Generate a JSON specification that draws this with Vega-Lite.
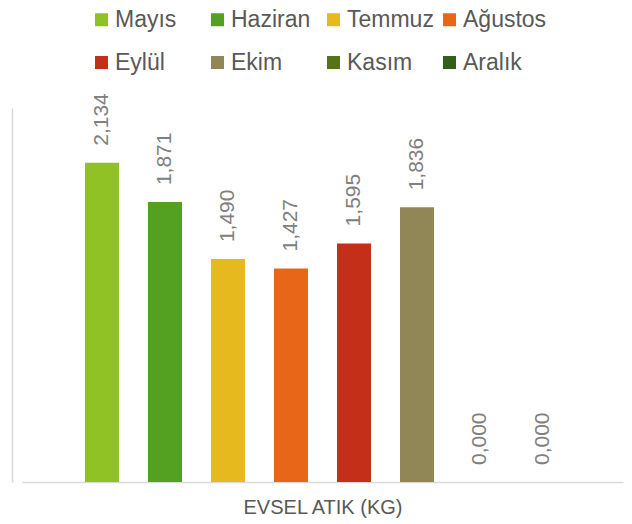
{
  "$schema": "https://vega.github.io/schema/vega-lite/v6.json",
  "width": 620,
  "height": 374,
  "autosize": {"type": "none"},
  "padding": {"left": 12, "top": 108, "right": 0, "bottom": 42},
  "background": "white",
  "config": {
    "view": {"stroke": null},
    "font": "Liberation Sans",
    "locale": {"number": {"decimal": ",", "thousands": ".", "grouping": [3], "currency": ["", " ₺"]}}
  },
  "data": {
    "values": [
      {"ay": "Mayıs", "sira": 1, "kg": 2.134},
      {"ay": "Haziran", "sira": 2, "kg": 1.871},
      {"ay": "Temmuz", "sira": 3, "kg": 1.49},
      {"ay": "Ağustos", "sira": 4, "kg": 1.427},
      {"ay": "Eylül", "sira": 5, "kg": 1.595},
      {"ay": "Ekim", "sira": 6, "kg": 1.836},
      {"ay": "Kasım", "sira": 7, "kg": 0},
      {"ay": "Aralık", "sira": 8, "kg": 0}
    ]
  },
  "encoding": {
    "x": {
      "field": "ay",
      "type": "nominal",
      "sort": {"field": "sira"},
      "scale": {"paddingInner": 0.46, "paddingOuter": 1, "range": [10, 611]},
      "axis": {
        "title": "EVSEL ATIK  (KG)",
        "titleFontSize": 20,
        "titleFontWeight": "normal",
        "titleColor": "#595959",
        "titlePadding": 15,
        "labels": false,
        "ticks": false,
        "domainColor": "#D9D9D9",
        "domainWidth": 1.5
      }
    },
    "y": {
      "field": "kg",
      "type": "quantitative",
      "scale": {"domain": [0, 2.5], "nice": false},
      "axis": {
        "title": null,
        "labels": false,
        "ticks": false,
        "grid": false,
        "domainColor": "#D9D9D9",
        "domainWidth": 1.5
      }
    }
  },
  "layer": [
    {
      "mark": {"type": "bar"},
      "encoding": {
        "color": {
          "field": "ay",
          "type": "nominal",
          "scale": {
            "domain": ["Mayıs", "Haziran", "Temmuz", "Ağustos", "Eylül", "Ekim", "Kasım", "Aralık"],
            "range": ["#90C226", "#54A021", "#E6B91E", "#E76618", "#C42F1A", "#918655", "#567416", "#32601A"]
          },
          "legend": {
            "title": null,
            "orient": "none",
            "legendX": 78,
            "legendY": -100,
            "direction": "horizontal",
            "columns": 4,
            "gridAlign": "all",
            "columnPadding": 4,
            "rowPadding": 19,
            "padding": 0,
            "symbolType": "square",
            "symbolSize": 169,
            "symbolStrokeWidth": 0,
            "labelFontSize": 23,
            "labelColor": "#595959",
            "labelOffset": 2,
            "labelLimit": 200
          }
        }
      }
    },
    {
      "mark": {"type": "text", "angle": -90, "align": "left", "baseline": "middle", "dx": 17, "fontSize": 21, "color": "#808080"},
      "encoding": {
        "text": {"field": "kg", "type": "quantitative", "format": ".3f"}
      }
    }
  ]
}
